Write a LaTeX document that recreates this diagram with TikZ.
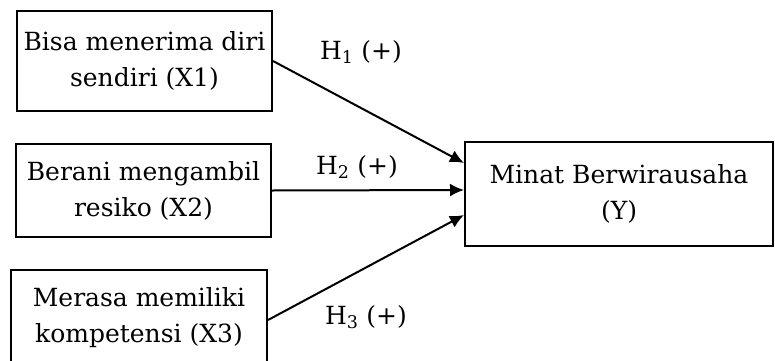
\documentclass[tikz,border=0pt]{standalone}
\usepackage{fontspec}
\setmainfont{DejaVu Serif}
\usetikzlibrary{arrows.meta}
\begin{document}
\begin{tikzpicture}[x=1pt,y=1pt,
  box/.style={draw,line width=2pt,align=center,inner sep=0pt,font=\fontsize{25}{36}\selectfont},
  lbl/.style={inner sep=0pt,font=\fontsize{25}{30}\selectfont},
  conn/.style={line width=2pt,-{Latex[length=14pt,width=13pt]}}]
\useasboundingbox (0,0) rectangle (775,360);
\fill[white] (0,0) rectangle (775,360);
\node[box,minimum width=255pt,minimum height=100pt] (b1) at (144.5,299) {Bisa menerima diri\\sendiri (X1)};
\node[box,minimum width=255pt,minimum height=93pt] (b2) at (143.5,169.5) {Berani mengambil\\resiko (X2)};
\node[box,minimum width=256pt,minimum height=96pt] (b3) at (139,42) {Merasa memiliki\\kompetensi (X3)};
\node[box,minimum width=308pt,minimum height=104pt] (y) at (619,166) {Minat Berwirausaha\\(Y)};
\draw[conn] (b1.east) -- ([yshift=31pt]y.west);
\draw[conn] (b2.east) -- ([yshift=4pt]y.west);
\draw[conn] ([yshift=-2pt]b3.east) -- ([yshift=-21pt]y.west);
\node[lbl] (h1) at (361,308) {H\textsubscript{1} (+)};
\node[lbl] (h2) at (357,193) {H\textsubscript{2} (+)};
\node[lbl] (h3) at (366,43) {H\textsubscript{3} (+)};
\end{tikzpicture}
\end{document}
